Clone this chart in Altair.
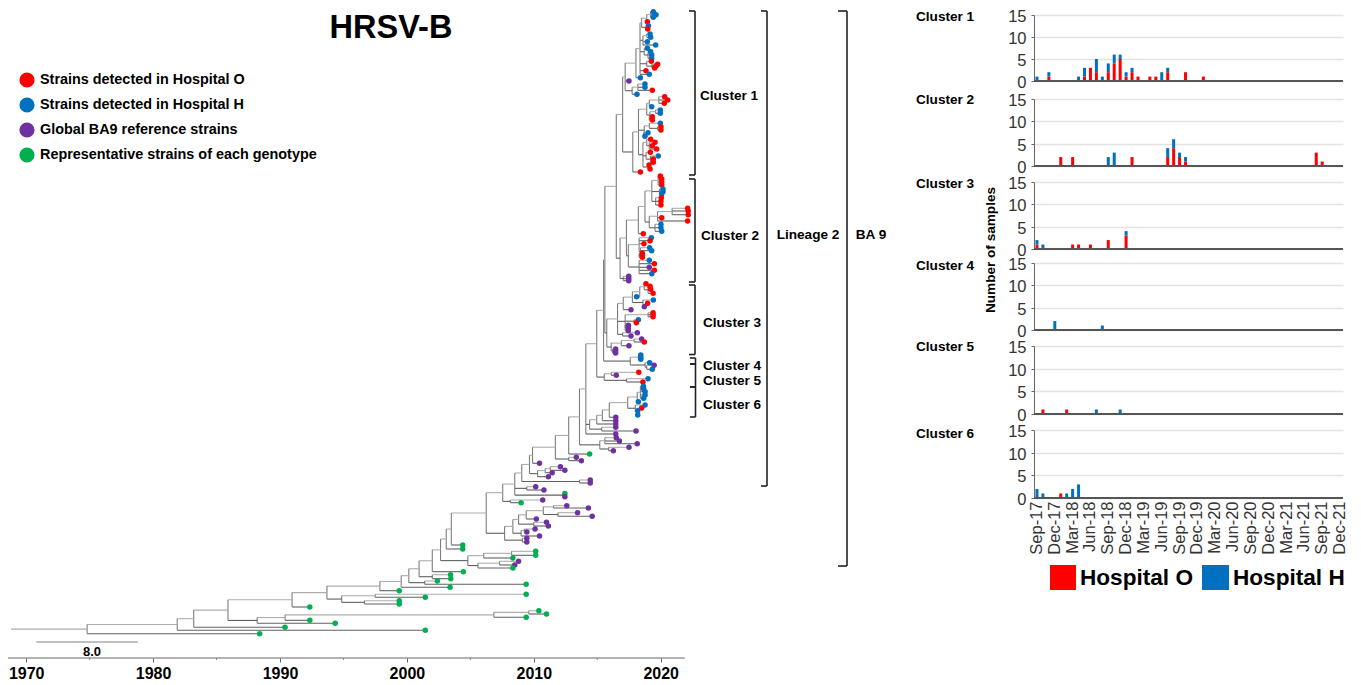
import altair as alt
import pandas as pd

FONT = "Liberation Sans"
O, H, R, G = "Hospital O", "Hospital H", "Global BA9", "Representative"
GROUPS = [O, H, R, G]
GROUP_COLORS = ["#ff0000", "#0070c0", "#7030a0", "#00b050"]


def L(year, row, group):
    return {"x": year, "y": row, "g": group}


def N(year, *kids):
    return {"x": year, "kids": list(kids)}


# ---- time-tree clades: node years, tip years, tip rows ----
C1_A = N(2018.5,
         N(2018.9, N(2019.2, L(2019.42, 11.7, H), L(2019.63, 14.7, H), L(2019.42, 17.3, H)), L(2018.95, 21.7, O)),
         N(2018.85, L(2019.03, 25.7, H), L(2018.98, 29, O)))
C1_B = N(2018.6, N(2018.9, L(2019.16, 34, H), L(2019.21, 37.3, H)), L(2018.95, 41.7, H), L(2019.6, 45, H))
C1_C = N(2018.7, L(2018.95, 48.3, H), N(2019, L(2019.21, 51.7, H), L(2019.29, 55, H), L(2019.29, 58.3, H)))
C1_D = N(2018.9, L(2019.26, 61.3, O), N(2019.3, L(2019.76, 64.3, O), L(2019.65, 65.7, O), L(2019.52, 68, O)))
C1_TOP = N(2018.05, N(2018.37, C1_A, C1_B, C1_C, C1_D, L(2018.84, 70.7, O), L(2019.1, 74.3, H)), L(2018.4, 77.7, H))
C1_UP = N(2017.2, C1_TOP, L(2017.5, 81, R),
          N(2017.75, N(2018.2, L(2018.76, 84, H), L(2018.76, 87.3, H), L(2019.34, 90.3, O)), L(2018.13, 94.3, H)))
C1_S1 = N(2018.9,
          N(2019.1, N(2019.85, L(2020.31, 96.7, O), L(2020.55, 100, O), L(2020.28, 103.3, O)), L(2019.29, 106.7, H)),
          N(2019.15, N(2019.6, L(2019.97, 110, H), L(2019.97, 113.3, H)), N(2019.1, L(2019.34, 116.7, O), L(2019.34, 120, O))))
C1_S1B = N(2018.7,
           N(2019.1, L(2019.97, 123.3, H), N(2019.75, L(2020.02, 126.7, O), L(2020.02, 130, O))),
           N(2018.65, L(2019.0, 132.7, H), L(2018.76, 136.3, H)))
C1_S2 = N(2018.6,
          N(2018.9, L(2019.21, 139.3, O), N(2019.1, L(2019.55, 142.3, O), L(2019.34, 145.7, O), L(2019.68, 149, O))),
          N(2018.85, L(2019.18, 152.3, O), N(2019.2, L(2019.81, 156, H), L(2019.42, 159, O), L(2019.42, 162.3, O))),
          N(2019, L(2019.08, 165, O), L(2019.16, 169, O)))
CLUSTER1 = N(2017.0, C1_UP, N(2017.8, N(2018.25, C1_S1, C1_S1B, C1_S2), L(2018.4, 172, O)))

C2_TOP = N(2019.3,
           N(2019.8, L(2019.97, 176, O), L(2020.08, 179, O), L(2020.08, 182, O), L(2020.08, 185, O)),
           N(2019.9, L(2020.18, 189, H), L(2020.18, 191.7, H), L(2020.08, 194, H)),
           N(2019.6, L(2020.05, 197.7, O), L(2020.02, 201.3, O), L(2020.02, 205, O)))
C2_B = N(2019.1,
         N(2019.75, N(2020.9, L(2022.12, 208.3, O), L(2022.17, 211, O), L(2022.17, 214.7, O)), L(2020.08, 217.7, O), L(2022.12, 221, O)),
         N(2019.55, L(2020.02, 224.3, H), L(2020.02, 227.7, H), L(2020.08, 231.3, H)))
C2_C = N(2017.45,
         N(2018.3, L(2019.26, 237.7, H), L(2019.16, 240.7, O), L(2018.68, 243.7, O),
           N(2018.4, L(2019.13, 247.7, H), L(2019.29, 250.7, H), N(2018.3, L(2018.55, 253.3, O), L(2018.55, 255.3, O), L(2018.55, 257.3, O)))),
         N(2018.3, L(2019.1, 260.3, H), L(2019.5, 263.7, O), L(2019.1, 267.3, R), L(2019.5, 270.3, O), L(2019.3, 273.7, H)))
CLUSTER2 = N(2016.8,
             N(2017.3, N(2018.24, N(2018.76, C2_TOP, C2_B), L(2018.63, 233.7, O)), C2_C),
             N(2017.05, L(2017.48, 276.3, R), L(2017.48, 278.7, R), L(2017.48, 280.7, R)))

C3_A = N(2017.77,
         N(2018.35, N(2018.7, L(2018.84, 283.7, O), N(2019, L(2019.16, 286.3, O), L(2019.21, 289.3, O), L(2019.4, 293.3, O)))
           , L(2018.1, 296.7, H)),
         N(2018.6, L(2019.42, 300, H), N(2018.9, L(2018.97, 303.3, O), L(2018.71, 306.7, R))))
C3_B = N(2017.2,
         N(2019.0, L(2019.4, 312.7, O), L(2019.4, 314.7, O), L(2019.4, 316.7, O)),
         N(2017.9, L(2018.24, 319.7, H), L(2018.08, 322.7, O)),
         N(2017.2, L(2017.45, 325.3, R), L(2017.45, 328, R), L(2017.45, 330.7, R)))
C3_C = N(2016.1,
         N(2016.9, N(2017.9, L(2018.5, 339, R), L(2018.71, 342, O)), L(2017.5, 345.7, R)),
         N(2016.2, L(2016.45, 349, R), L(2016.45, 351, R), L(2016.45, 353, R)))
CLUSTER3 = N(2015.75,
             N(2016.6, N(2017.05, C3_A, L(2017.66, 309.7, R)), C3_B, N(2017.0, L(2018.16, 332.7, R), L(2017.66, 336, R))),
             C3_C)

CLUSTER4 = N(2017.6,
             N(2018.24, L(2018.43, 355, H), L(2018.43, 357.3, H), L(2018.43, 359.3, H)),
             N(2018.77, L(2019.13, 362.7, H), N(2018.9, L(2019.48, 365.3, R), L(2019.34, 369.3, H))))
CLUSTER5 = N(2015.55,
             N(2016.1, L(2018.27, 372.3, O), L(2016.5, 375.3, R)),
             N(2017.3, L(2019.0, 378.7, H), L(2018.6, 382, O)))
CLUSTER6 = N(2017.4,
             N(2018.15, N(2018.4, L(2018.64, 386.3, H), L(2018.66, 388.7, H), L(2018.77, 391.7, H), L(2018.77, 395, H), L(2018.66, 398.3, H)),
               L(2018.24, 401.7, H)),
             N(2018, L(2018.77, 405, H), N(2018.2, L(2018.5, 408, O), L(2018.19, 410.7, H), L(2018.19, 415, H))))

LINEAGE2 = N(2014.96, N(2015.5, N(2015.6, N(2016.5, CLUSTER1, CLUSTER2), CLUSTER3), CLUSTER4), CLUSTER5)
MID_BA9 = N(2014.1, LINEAGE2,
            N(2014.4,
              N(2014.96, N(2015.4, N(2015.95, CLUSTER6, L(2016.46, 417.3, R)), L(2016.46, 420.7, R)), L(2016.46, 424, R)),
              N(2015.35, L(2016.46, 427.3, R), L(2018.06, 431, R))),
            L(2016.46, 434, R))
EARLY_BA9 = N(2013.6, MID_BA9,
              N(2015.2,
                N(2015.6, L(2016.5, 437.7, R), L(2016.75, 441, R), L(2018.15, 443.7, R)),
                N(2015.9, L(2017.5, 447.3, R), L(2016.27, 450.7, R))))
BA_UPPER = N(2011.7, N(2012.75, EARLY_BA9, L(2014.4, 454, G)), N(2012.75, L(2013.35, 457.3, R), L(2013.75, 460.7, R)))
BA_ROOT = N(2007.55,
            N(2008.5,
              N(2009.05,
                N(2009.66,
                  N(2009.9, BA_UPPER, L(2010.45, 463.3, R)),
                  N(2010.3, N(2010.9, N(2011.3, L(2012.1, 466.7, R), L(2012.45, 470.3, R)), L(2011.45, 472.7, R)), L(2011.15, 476.7, R))),
                N(2013.6, L(2014.45, 480, R), L(2014.45, 483, R))),
              N(2009.45, L(2010.15, 486.7, R), L(2010.8, 490, R)),
              N(2012.3, L(2012.45, 493.5, G), L(2012.45, 496.7, R))),
            N(2008.15, L(2010.7, 500, R), L(2009, 502.7, G)))
B_SIDE = N(2007.7,
           N(2008.35,
             N(2008.8,
               N(2009.4,
                 N(2010.75, N(2011.55, L(2012.6, 505.7, R), L(2014.3, 508, R)), N(2011.9, L(2013.45, 512.7, R), L(2014.6, 516.3, R))),
                 L(2010.2, 519, R)),
               N(2010, L(2011, 522.3, R), L(2011.15, 526, R))),
             N(2009, N(2009.25, L(2010.1, 529, R), L(2009.45, 532, R)), L(2010.45, 536, R))),
           N(2009.1, L(2009.45, 538.3, R), L(2009.45, 542, R)))
BASAL = N(2002, N(2002.65,
                  N(2003.1, N(2003.5, N(2006.25, BA_ROOT, B_SIDE), L(2004.4, 545, G)), L(2004.4, 549, G)),
                  N(2004.8,
                    N(2006.05, N(2008.25, L(2010.15, 551.3, G), L(2010.15, 555.3, G)), L(2008.35, 558, G)),
                    N(2005.6, N(2007.3, L(2008.8, 561.3, R), L(2008.5, 565, R)), L(2008.35, 568, G)))),
          L(2004.45, 571.7, G))
GENOTYPES = N(1993.7,
              N(1997.87,
                N(1999.55,
                  N(2000.15,
                    N(2000.96, BASAL, N(2002, L(2003.44, 574.7, G), L(2003.46, 578.7, G))),
                    N(2001.4, L(2002.4, 581, G), L(2009.4, 584.3, G))),
                  L(2003.4, 587.3, G)),
                L(1999.4, 590.7, G)),
              N(1994.86,
                N(1997.5, L(2009.4, 594.3, G), L(2001.45, 597.3, G)),
                N(1996.66, L(1999.4, 600.7, G), L(1999.4, 604, G))))
OUTER = N(1988.2,
          N(1990.4, N(2006.85, N(2009.6, L(2010.4, 610.7, G), L(2011, 614, G)), L(2009.4, 617.3, G)), L(1992.35, 620.3, G)),
          L(1994.35, 623.3, G))
ROOT = N(1974.8,
         N(1981.9,
           N(1983.2,
             N(1985.9, N(1990.95, GENOTYPES, L(1992.35, 607, G)), OUTER),
             L(1990.4, 627.3, G)),
           L(2001.45, 630.3, G)),
         L(1988.4, 633.7, G))
ROOT_YEAR = 1968.8
SCALE_BAR_YEARS = [1970.8, 1978.8]
AXIS_YEARS = [1970, 1980, 1990, 2000, 2010, 2020]
MINOR_YEARS = [1975, 1985, 1995, 2005, 2015]

# ---- monthly counts per cluster ----
MONTHS = []
_m = ["Jan", "Feb", "Mar", "Apr", "May", "Jun", "Jul", "Aug", "Sep", "Oct", "Nov", "Dec"]
for _i in range(52):
    _k = 8 + _i
    MONTHS.append(f"{_m[_k % 12]}-{17 + _k // 12}")
MONTH_TICKS = MONTHS[::3]
CL1_O = {2: 1, 8: 1, 9: 3, 10: 2, 12: 2, 13: 4, 14: 5, 15: 1, 16: 2, 17: 1, 19: 1, 20: 1, 22: 2, 25: 2, 28: 1}
CL1_H = {0: 1, 2: 1, 7: 1, 8: 2, 10: 3, 11: 1, 12: 2, 13: 2, 14: 1, 15: 1, 16: 1, 21: 2, 22: 1}
CL2_O = {4: 2, 6: 2, 16: 2, 22: 2, 23: 4, 24: 2, 25: 1, 47: 3, 48: 1}
CL2_H = {12: 2, 13: 3, 22: 2, 23: 2, 24: 1, 25: 1}
CL3_O = {0: 1, 6: 1, 7: 1, 9: 1, 12: 2, 15: 3}
CL3_H = {0: 1, 1: 1, 15: 1}
CL4_O = {}
CL4_H = {3: 2, 11: 1}
CL5_O = {1: 1, 5: 1}
CL5_H = {10: 1, 14: 1}
CL6_O = {4: 1}
CL6_H = {0: 2, 1: 1, 5: 1, 6: 2, 7: 3}
CLUSTER_COUNTS = [(CL1_O, CL1_H), (CL2_O, CL2_H), (CL3_O, CL3_H), (CL4_O, CL4_H), (CL5_O, CL5_H), (CL6_O, CL6_H)]

# ---- flatten the tree ----
segs, tips = [], []


def walk(node, parent_x, first):
    if "kids" not in node:
        tips.append({"x": node["x"], "y": node["y"], "group": node["g"]})
        y = node["y"]
    else:
        ys = [walk(k, node["x"], i == 0) for i, k in enumerate(node["kids"])]
        y = (ys[0] + ys[-1]) / 2
        segs.append({"x": node["x"], "x2": node["x"], "y": ys[0], "y2": ys[-1], "c": "#7d7d7d"})
    segs.append({"x": parent_x, "x2": node["x"], "y": y, "y2": y, "c": "#adadad" if first else "#606060"})
    return y


walk(ROOT, ROOT_YEAR, True)
seg_df = pd.DataFrame(segs)
tip_df = pd.DataFrame(tips)

# plot-area placement on the page
PX0, PY0 = 9, 15
PX_PER_YEAR = 12.69
X_START = 1970 + (PX0 - 26.2) / PX_PER_YEAR
TREE_W, TREE_H = 899, 643
AXIS_ROW = 658
x_scale = alt.Scale(domain=[X_START, X_START + TREE_W / PX_PER_YEAR], nice=False, zero=False)
y_scale = alt.Scale(domain=[PY0, AXIS_ROW], nice=False, zero=False, reverse=True)
ONE = pd.DataFrame({"t": [""]})

x_enc = alt.X("x:Q", scale=x_scale, title=None,
              axis=alt.Axis(values=AXIS_YEARS, format="d", domain=False, grid=False, tickSize=4, tickColor="#666666",
                            labelFontSize=16, labelFontWeight="bold", labelColor="#000000", labelFont=FONT, labelPadding=3))
y_enc = alt.Y("y:Q", scale=y_scale, axis=None)

layers = [
    alt.Chart(seg_df).mark_rule(strokeWidth=1.1).encode(x=x_enc, x2="x2:Q", y=y_enc, y2="y2:Q", color=alt.Color("c:N", scale=None)),
    alt.Chart(tip_df).mark_circle(size=30, opacity=1).encode(
        x=alt.X("x:Q", scale=x_scale), y=alt.Y("y:Q", scale=y_scale, axis=None),
        color=alt.Color("group:N", scale=alt.Scale(domain=GROUPS, range=GROUP_COLORS), legend=None)),
    alt.Chart(pd.DataFrame({"x": [X_START - 0.1], "x2": [2021.9], "y": [AXIS_ROW]})).mark_rule(color="#666666", strokeWidth=1.2).encode(
        x=alt.X("x:Q", scale=x_scale), x2="x2:Q", y=alt.Y("y:Q", scale=y_scale, axis=None)),
    alt.Chart(pd.DataFrame({"x": MINOR_YEARS, "y": [AXIS_ROW] * 5, "y2": [AXIS_ROW + 2] * 5})).mark_rule(color="#888888").encode(
        x=alt.X("x:Q", scale=x_scale), y=alt.Y("y:Q", scale=y_scale, axis=None), y2="y2:Q"),
    alt.Chart(pd.DataFrame({"x": [SCALE_BAR_YEARS[0]], "x2": [SCALE_BAR_YEARS[1]], "y": [642]})).mark_rule(color="#808080", strokeWidth=1.2).encode(
        x=alt.X("x:Q", scale=x_scale), x2="x2:Q", y=alt.Y("y:Q", scale=y_scale, axis=None)),
]


def text_at(px, py, s, size=13.6, align="left", color="#000000", angle=None):
    kw = {"angle": angle} if angle is not None else {}
    return alt.Chart(pd.DataFrame({"t": [s]})).mark_text(
        font=FONT, fontWeight="bold", fontSize=size, align=align, baseline="middle", color=color, **kw
    ).encode(x=alt.value(px - PX0), y=alt.value(py - PY0), text="t:N")


def seg_at(x1, y1, x2, y2, w=1.6, color="#222222"):
    return alt.Chart(ONE).mark_rule(color=color, strokeWidth=w).encode(
        x=alt.value(x1 - PX0), x2=alt.value(x2 - PX0), y=alt.value(y1 - PY0), y2=alt.value(y2 - PY0))


def bracket(xl, xr, top, bottom):
    return [seg_at(xr, top, xr, bottom), seg_at(xl, top, xr, top), seg_at(xl, bottom, xr, bottom)]


layers.append(text_at(391, 28, "HRSV-B", size=32.5, align="center"))
layers.append(text_at(92, 652, "8.0", size=13, align="center"))
for py, c, s in [(80, GROUP_COLORS[0], "Strains detected in Hospital O"),
                 (105, GROUP_COLORS[1], "Strains detected in Hospital H"),
                 (130, GROUP_COLORS[2], "Global BA9 reference strains"),
                 (155, GROUP_COLORS[3], "Representative strains of each genotype")]:
    layers.append(alt.Chart(ONE).mark_circle(size=230, opacity=1, color=c).encode(x=alt.value(27 - PX0), y=alt.value(py - PY0)))
    layers.append(text_at(40, py, s, size=14.4))

for xl, xr, t, b in [(689, 695, 11, 175), (689, 695, 179, 282), (689, 695, 285, 354.5),
                     (690, 695.5, 358, 364), (690, 695.5, 364, 387), (690, 695.5, 387, 417),
                     (761, 767, 11, 486), (838, 847, 11, 566)]:
    layers.extend(bracket(xl, xr, t, b))
for px, py, s in [(729, 96, "Cluster 1"), (730, 236, "Cluster 2"), (732, 323, "Cluster 3"), (732, 366, "Cluster 4"),
                  (732, 381, "Cluster 5"), (732, 405, "Cluster 6"), (808, 235, "Lineage 2"), (871, 235, "BA 9")]:
    layers.append(text_at(px, py, s, align="center"))

tree = alt.layer(*layers).properties(width=TREE_W, height=TREE_H)

# ---- bars ----
PLOT_H = [66, 67, 67, 67, 68, 68]
LABEL_DY = [2, 1, 2, 3, 1, 4]
PANEL_H = [84, 83, 81, 83, 84, 68]
BAR_W = 309
BLUE, RED = GROUP_COLORS[1], GROUP_COLORS[0]


def bars_panel(i):
    o_counts, h_counts = CLUSTER_COUNTS[i]
    rows = [{"month": MONTHS[k], "n": v, "hosp": O, "ord": 0} for k, v in o_counts.items()] + \
           [{"month": MONTHS[k], "n": v, "hosp": H, "ord": 1} for k, v in h_counts.items()]
    df = pd.DataFrame(rows)
    last = i == 5
    x_axis = alt.Axis(values=MONTH_TICKS, labels=last, ticks=False, domain=False, grid=False, title=None,
                      labelAngle=270, labelFontSize=16.5, labelColor="#333333", labelFont=FONT, labelPadding=3,
                      labelOverlap=False, labelBaseline="middle")
    y_sc = alt.Scale(domain=[0, 15], range=[PLOT_H[i], 0], nice=False)
    y_axis = alt.Axis(values=[0, 5, 10, 15], title=None, grid=True, gridColor="#e3e3e3", gridWidth=1.5, domainColor="#666666",
                      tickColor="#666666", tickSize=3, labelFontSize=16.5, labelColor="#333333", labelFont=FONT, labelPadding=5,
                      labelOverlap=False, labelOffset=1.5)
    x_sc = alt.Scale(domain=MONTHS, padding=0)
    bar = alt.Chart(df).mark_bar(size=3).encode(
        x=alt.X("month:N", scale=x_sc, axis=x_axis, sort=MONTHS),
        y=alt.Y("n:Q", stack="zero", scale=y_sc, axis=y_axis),
        color=alt.Color("hosp:N", scale=alt.Scale(domain=[O, H], range=[RED, BLUE]), legend=None),
        order=alt.Order("ord:Q"))
    base = alt.Chart(pd.DataFrame({"v": [0]})).mark_rule(color="#555555", strokeWidth=2).encode(y=alt.Y("v:Q", scale=y_sc, axis=y_axis))
    label = alt.Chart(pd.DataFrame({"t": [f"Cluster {i + 1}"]})).mark_text(
        font=FONT, fontWeight="bold", fontSize=13.6, align="left", baseline="middle").encode(
        x=alt.value(-118), y=alt.value(LABEL_DY[i]), text="t:N")
    parts = [bar, base, label]
    if i == 2:
        parts.append(alt.Chart(pd.DataFrame({"t": ["Number of samples"]})).mark_text(
            font=FONT, fontWeight="bold", fontSize=13.6, angle=270, align="center", baseline="middle").encode(
            x=alt.value(-43), y=alt.value(68), text="t:N"))
    if last:
        for (x1, x2, c), (tx, s) in zip([(16, 42, RED), (168, 195, BLUE)], [(46, O), (199, H)]):
            parts.append(alt.Chart(ONE).mark_rect(color=c).encode(
                x=alt.value(x1), x2=alt.value(x2), y=alt.value(135), y2=alt.value(160)))
            parts.append(alt.Chart(pd.DataFrame({"t": [s]})).mark_text(
                font=FONT, fontWeight="bold", fontSize=22.6, align="left", baseline="middle", color="#000000").encode(
                x=alt.value(tx), y=alt.value(148), text="t:N"))
    return alt.layer(*parts).properties(width=BAR_W, height=PANEL_H[i])


right = alt.vconcat(*[bars_panel(i) for i in range(6)], spacing=0, bounds="flush")
chart = alt.hconcat(tree, right, spacing=126, bounds="flush").properties(
    padding={"left": -1, "top": 0, "right": 0, "bottom": 0}).configure(font=FONT).configure_view(stroke=None)
chart.save("out.html", embed_options={"renderer": "svg", "actions": False})
